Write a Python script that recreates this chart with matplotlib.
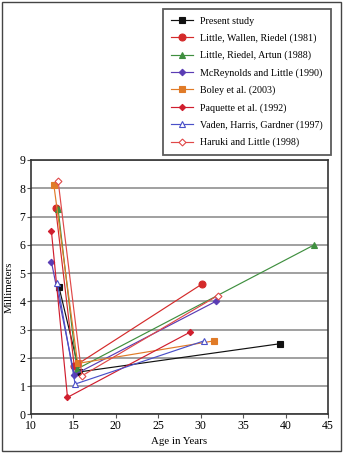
import matplotlib
matplotlib.use("Agg")
import matplotlib.pyplot as plt
from matplotlib.patches import Rectangle

plt.rcParams['font.family'] = ['Liberation Serif', 'DejaVu Serif']

# studies: (ages, millimeters)
labels = ["Present study", "Little, Wallen, Riedel (1981)", "Little, Riedel, Artun (1988)",
          "McReynolds and Little (1990)", "Boley et al. (2003)", "Paquette et al. (1992)",
          "Vaden, Harris, Gardner (1997)", "Haruki and Little (1998)"]
ages = [
    [13.3, 15.7, 39.4],
    [12.9, 15.1, 30.1],
    [13.2, 15.4, 43.4],
    [12.4, 15.1, 31.8],
    [12.7, 15.5, 31.6],
    [12.4, 14.3, 28.7],
    [13.1, 15.2, 30.4],
    [13.2, 16.0, 32.0],
]
mm = [
    [4.5, 1.5, 2.5],
    [7.3, 1.7, 4.6],
    [7.25, 1.6, 6.0],
    [5.4, 1.4, 4.0],
    [8.1, 1.8, 2.6],
    [6.5, 0.6, 2.9],
    [4.65, 1.07, 2.6],
    [8.25, 1.36, 4.2],
]
colors = ["#111111", "#d42a2a", "#3f8f3f", "#5a3cb4", "#e07b28", "#d01e2e", "#4a50c8", "#e04848"]
markers = ["s", "o", "^", "D", "s", "D", "^", "D"]
filled = [True, True, True, True, True, True, False, False]
msizes = [4.5, 5, 4.5, 3.3, 5, 3.2, 4.5, 3.5]

fig = plt.figure(figsize=(3.45, 4.53), dpi=100)
ax = fig.add_axes([31/345, 1 - 414.3/453, 297/345, (414.3 - 160)/453])

for i in range(len(labels)):
    ax.plot(ages[i], mm[i], color=colors[i], lw=0.85, marker=markers[i], ms=msizes[i],
            mfc=colors[i] if filled[i] else "white", mec=colors[i], mew=0.8,
            label=labels[i], zorder=3)

ax.set_xlim(10, 45)
ax.set_ylim(0, 9)
ax.set_xticks(range(10, 46, 5))
ax.set_yticks(range(0, 10))
ax.grid(axis="y", color="#999999", lw=1.3)
ax.set_axisbelow(True)
for s in ax.spines.values():
    s.set_color("#333333")
    s.set_linewidth(1.2)
ax.tick_params(labelsize=8.5, length=3, width=0.8, pad=1, color="#555555")
ax.set_xlabel("Age in Years", fontsize=7.8, labelpad=4)
ax.set_ylabel("Millimeters", fontsize=7.8, labelpad=4)

leg = fig.legend(loc="upper left", bbox_to_anchor=(163/345, 1 - 9/453, 168/345, 0.0),
                 mode="expand", fontsize=7.2, frameon=True, fancybox=False,
                 handlelength=2.2, labelspacing=0.78, borderpad=0.75, handletextpad=0.7,
                 borderaxespad=0)
leg.get_frame().set_edgecolor("#333333")
leg.get_frame().set_linewidth(1.3)

fig.patches.append(Rectangle((2/345, 2/453), 339/345, 449/453, transform=fig.transFigure,
                             fill=False, edgecolor="#444444", lw=1.0))

fig.savefig("out.png", dpi=100)
